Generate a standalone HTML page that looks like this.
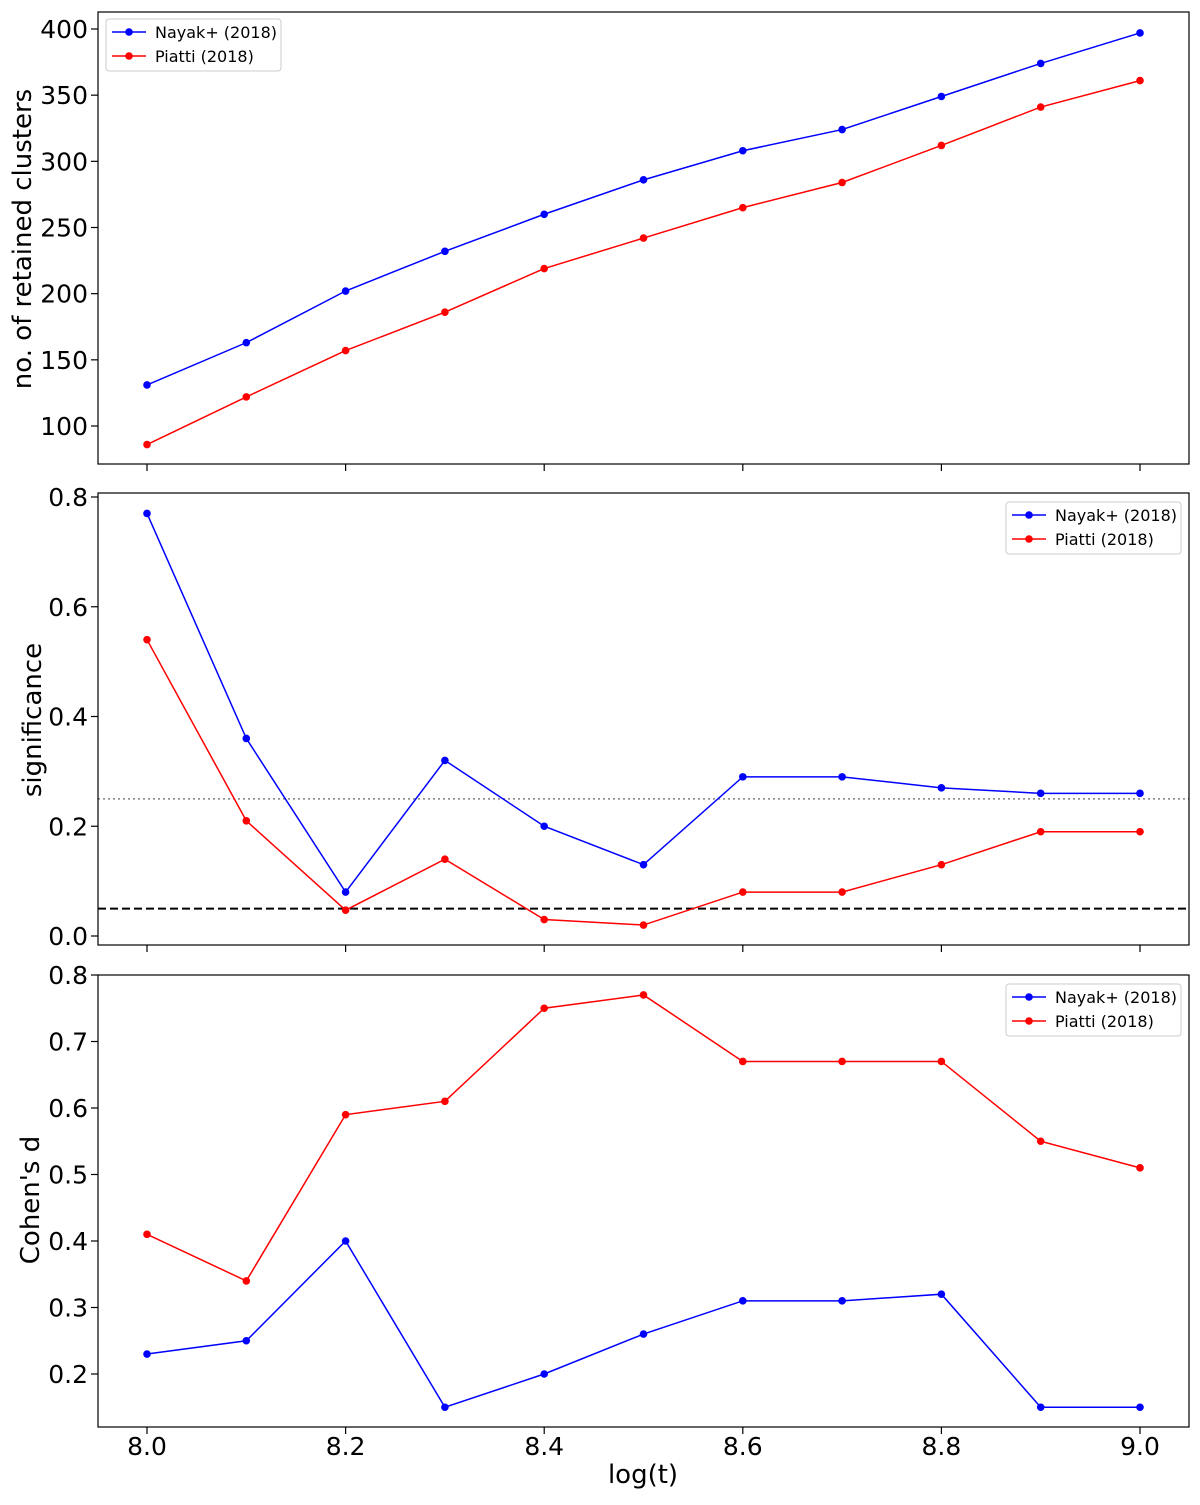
<!DOCTYPE html>
<html><head><meta charset="utf-8"><style>
body{margin:0;background:#fff}
svg{font-family:"DejaVu Sans","Liberation Sans",sans-serif}
</style></head><body>
<svg id="c" width="1200" height="1500" xmlns="http://www.w3.org/2000/svg"></svg>
<script>
const xVals=[8.0,8.1,8.2,8.3,8.4,8.5,8.6,8.7,8.8,8.9,9.0];
const xTicks=[8.0,8.2,8.4,8.6,8.8,9.0];
const nayakCount=[131,163,202,232,260,286,308,324,349,374,397];
const piattiCount=[86,122,157,186,219,242,265,284,312,341,361];
const nayakSig=[0.77,0.36,0.08,0.32,0.20,0.13,0.29,0.29,0.27,0.26,0.26];
const piattiSig=[0.54,0.21,0.047,0.14,0.03,0.02,0.08,0.08,0.13,0.19,0.19];
const nayakD=[0.23,0.25,0.40,0.15,0.20,0.26,0.31,0.31,0.32,0.15,0.15];
const piattiD=[0.41,0.34,0.59,0.61,0.75,0.77,0.67,0.67,0.67,0.55,0.51];
const ticks1=[100,150,200,250,300,350,400];
const ticks2=[0.0,0.2,0.4,0.6,0.8];
const ticks3=[0.2,0.3,0.4,0.5,0.6,0.7,0.8];
const svg=document.getElementById('c');
const NS='http://www.w3.org/2000/svg';
function mk(tag,attrs,parent){const e=document.createElementNS(NS,tag);for(const k in attrs)e.setAttribute(k,attrs[k]);(parent||svg).appendChild(e);return e;}
const X=v=>147+(v-8.0)*993;
const panels=[
 {top:12,bot:464,y0:100,p0:426,y1:400,p1:29,ticks:ticks1,fmt:v=>String(v),label:'no. of retained clusters',ly:239,lx:31,b:nayakCount,r:piattiCount,leg:'left',name:'retained-clusters-panel',xl:false},
 {top:493,bot:945,y0:0,p0:936,y1:0.8,p1:497,ticks:ticks2,fmt:v=>v.toFixed(1),label:'significance',ly:720,lx:41,b:nayakSig,r:piattiSig,leg:'right',name:'significance-panel',xl:false},
 {top:975,bot:1427,y0:0.2,p0:1374,y1:0.8,p1:975,ticks:ticks3,fmt:v=>v.toFixed(1),label:"Cohen's d",ly:1200,lx:39,b:nayakD,r:piattiD,leg:'right',name:'cohens-d-panel',xl:true}
];
panels.forEach((P,pi)=>{
 const g=mk('g',{});
 
 
 const Y=v=>P.p0+(v-P.y0)*(P.p1-P.p0)/(P.y1-P.y0);
 P.ticks.forEach(t=>{
  const y=Y(t);
  mk('line',{x1:91,x2:98,y1:y,y2:y,stroke:'#000','stroke-width':1.2},g);
  const tx=mk('text',{x:88,y:y+9,'text-anchor':'end','font-size':25},g);tx.textContent=P.fmt(t);
  
  
 });
 xTicks.forEach(t=>{
  const x=X(t);
  mk('line',{x1:x,x2:x,y1:P.bot,y2:P.bot+7,stroke:'#000','stroke-width':1.2},g);
  if(P.xl){const tx=mk('text',{x:x,y:P.bot+28,'text-anchor':'middle','font-size':25},g);tx.textContent=t.toFixed(1);
   
   }
 });
 const yl=mk('text',{x:0,y:0,'text-anchor':'middle','font-size':26,transform:`translate(${P.lx},${P.ly}) rotate(-90)`},g);yl.textContent=P.label;
 
 
 if(pi==1){
  mk('line',{x1:98,x2:1189,y1:Y(0.25),y2:Y(0.25),stroke:'#808080','stroke-width':1.5,'stroke-dasharray':'2,3'},g);
  mk('line',{x1:98,x2:1189,y1:Y(0.05),y2:Y(0.05),stroke:'#000','stroke-width':2,'stroke-dasharray':'8,4'},g);
 }
 [[P.b,'#0000ff','nayak-series'],[P.r,'#ff0000','piatti-series']].forEach(([d,c,n])=>{
  const s=mk('g',{},g);
  
  
  mk('polyline',{points:d.map((v,i)=>X(xVals[i])+','+Y(v)).join(' '),fill:'none',stroke:c,'stroke-width':1.5},s);
  d.forEach((v,i)=>{const p=mk('circle',{cx:X(xVals[i]),cy:Y(v),r:3.8,fill:c},s);
   
   });
 });
 mk('rect',{x:98,y:P.top,width:1091,height:P.bot-P.top,fill:'none',stroke:'#000','stroke-width':1.2},g);
 const lx=P.leg=='left'?106:1006, ly=P.top+(P.leg=='left'?7:9);
 const lg=mk('g',{},g);
 
 
 mk('rect',{x:lx,y:ly,width:175,height:52,rx:3,fill:'#fff',stroke:'#ccc','stroke-width':1},lg);
 [['Nayak+ (2018)','#0000ff'],['Piatti (2018)','#ff0000']].forEach(([t,c],k)=>{
  const yy=ly+13+k*24;
  mk('line',{x1:lx+6,x2:lx+40,y1:yy,y2:yy,stroke:c,'stroke-width':1.5},lg);
  mk('circle',{cx:lx+23,cy:yy,r:3.8,fill:c},lg);
  const tx=mk('text',{x:lx+49,y:yy+6,'font-size':16},lg);tx.textContent=t;
  
  
 });
});
const xt=mk('text',{x:643,y:1483,'text-anchor':'middle','font-size':26});xt.textContent='log(t)';


</script>
</body></html>
